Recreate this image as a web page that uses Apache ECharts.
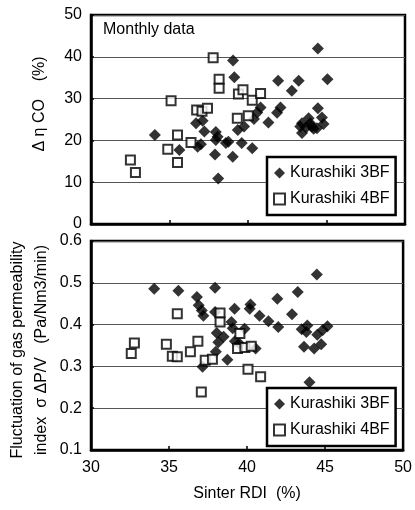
<!DOCTYPE html>
<html><head><meta charset="utf-8">
<script src="https://cdn.jsdelivr.net/npm/echarts@6/dist/echarts.min.js"></script>
<style>html,body{margin:0;padding:0;background:#fff}#c{width:415px;height:510px}</style>
</head><body><div id="c"></div>
<script>
// Sinter RDI (%) axis ticks
const rdiTicks = [30, 35, 40, 45, 50];
const etaTicks = [0, 10, 20, 30, 40, 50];
const sigmaTicks = [0.1, 0.2, 0.3, 0.4, 0.5, 0.6];
const seriesNames = ['Kurashiki 3BF', 'Kurashiki 4BF'];

// Top panel: [Sinter RDI, Δη CO]
const eta3BF = [
  [44.45,42.0],[39.05,39.1],[39.13,35.1],[41.92,34.3],[43.23,34.3],[45.06,34.6],[42.79,31.9],
  [44.45,27.7],[42.07,27.9],[41.85,26.6],[40.80,27.9],[40.59,26.7],[40.38,25.1],[41.30,24.3],
  [39.75,23.3],[39.35,22.5],[36.69,24.1],[37.11,24.7],[37.22,22.1],[37.95,22.0],[38.06,20.9],
  [37.95,20.1],[38.59,19.4],[38.75,19.7],[37.00,19.1],[36.79,18.5],[39.60,19.4],[40.27,18.1],
  [35.63,17.7],[37.90,16.6],[39.03,16.1],[34.07,21.3],[38.10,10.9],
  [43.44,24.1],[43.86,25.3],[43.44,21.8],[43.70,23.1],[44.07,23.3],[44.39,22.9],[44.71,25.5],
  [44.81,23.9],[43.33,23.3],[43.96,24.1],[44.18,22.8]
];
const eta4BF = [
  [37.78,39.8],[38.16,34.6],[38.16,32.5],[39.39,31.1],[39.68,32.1],[40.27,29.6],[40.80,31.2],
  [40.02,25.9],[39.32,25.3],[35.10,29.5],[36.73,27.3],[37.07,27.0],[37.42,27.7],[35.51,21.3],
  [36.37,19.5],[34.89,17.9],[35.51,14.7],[32.51,15.3],[32.83,12.3]
];

// Bottom panel: [Sinter RDI, σΔP/V]
const sigma3BF = [
  [44.47,0.520],[34.05,0.486],[35.60,0.481],[37.95,0.488],[36.79,0.466],[41.94,0.462],[43.25,0.478],
  [36.90,0.446],[37.10,0.434],[37.20,0.421],[37.95,0.430],[39.20,0.438],[40.22,0.448],[40.17,0.438],
  [40.80,0.421],[41.37,0.408],[42.88,0.425],[42.00,0.394],[39.00,0.406],[39.08,0.391],[39.84,0.390],
  [38.50,0.371],[38.06,0.380],[38.16,0.358],[38.00,0.335],[37.15,0.299],[38.74,0.316],[39.22,0.360],
  [39.50,0.355],[40.55,0.343],[43.86,0.398],[43.50,0.389],[43.80,0.382],[44.50,0.376],[44.85,0.387],
  [45.15,0.396],[43.65,0.347],[44.30,0.343],[44.75,0.353],[44.00,0.262]
];
const sigma4BF = [
  [35.53,0.426],[32.78,0.356],[32.58,0.331],[34.83,0.353],[35.21,0.324],[35.53,0.323],[36.37,0.335],
  [36.85,0.360],[37.32,0.315],[37.78,0.317],[38.27,0.428],[38.27,0.406],[39.54,0.379],[39.39,0.343],
  [39.86,0.345],[40.27,0.348],[40.06,0.293],[40.87,0.275],[37.07,0.239]
];

const FONT = '"Liberation Sans", Arial, sans-serif';
const chart = echarts.init(document.getElementById('c'), null, {renderer: 'canvas'});

function yAxis(grid, ticks, fmt) {
  return {
    type: 'value', gridIndex: grid,
    min: ticks[0], max: ticks[ticks.length - 1], interval: ticks[1] - ticks[0],
    axisLine: {show: true, lineStyle: {color: '#000', width: 2.5}},
    axisTick: {show: true, inside: true, length: 3, lineStyle: {color: '#000', width: 1.5}},
    axisLabel: {color: '#000', fontSize: 16, fontFamily: FONT, margin: 9, formatter: fmt},
    splitLine: {show: true, lineStyle: {color: '#555', width: 1}}
  };
}
function xAxis(grid, showLabels) {
  return {
    type: 'value', gridIndex: grid,
    min: rdiTicks[0], max: rdiTicks[rdiTicks.length - 1], interval: rdiTicks[1] - rdiTicks[0],
    axisLine: {show: true, onZero: false, lineStyle: {color: '#000', width: 2.5}},
    axisTick: {show: true, inside: true, length: 4, lineStyle: {color: '#000', width: 1.5}},
    axisLabel: {show: showLabels, color: '#000', fontSize: 16, fontFamily: FONT, margin: 10},
    splitLine: {show: false},
    name: showLabels ? 'Sinter RDI  (%)' : '',
    nameLocation: 'middle', nameGap: 36,
    nameTextStyle: {color: '#000', fontSize: 16, fontFamily: FONT}
  };
}
function legend(top) {
  return {
    left: 267, top: top, orient: 'vertical',
    borderColor: '#000', borderWidth: 2.5, backgroundColor: '#fff',
    padding: [6, 6, 6, 6], itemGap: 6, itemWidth: 11, itemHeight: 11,
    textStyle: {color: '#000', fontSize: 16, fontFamily: FONT, lineHeight: 20},
    data: [{name: seriesNames[0], icon: 'diamond'}, {name: seriesNames[1], icon: 'rect'}]
  };
}
const diamondStyle = {color: '#000'};
const squareStyle = {color: '#fff', borderColor: '#000', borderWidth: 2};

chart.setOption({
  animation: false,
  backgroundColor: '#fff',
  grid: [
    {left: 91, right: 10, top: 15, height: 209, show: true, borderColor: '#000', borderWidth: 2.5, backgroundColor: 'transparent'},
    {left: 91, right: 10, top: 241, height: 209, show: true, borderColor: '#000', borderWidth: 2.5, backgroundColor: 'transparent'}
  ],
  xAxis: [xAxis(0, false), xAxis(1, true)],
  yAxis: [yAxis(0, etaTicks, v => String(Math.round(v))), yAxis(1, sigmaTicks, v => v.toFixed(1))],
  legend: [legend(157), legend(388)],
  series: [
    {name: seriesNames[0], type: 'scatter', xAxisIndex: 0, yAxisIndex: 0, symbol: 'diamond', symbolSize: 12, itemStyle: diamondStyle, data: eta3BF},
    {name: seriesNames[1], type: 'scatter', xAxisIndex: 0, yAxisIndex: 0, symbol: 'rect', symbolSize: 9, itemStyle: squareStyle, data: eta4BF},
    {name: seriesNames[0], type: 'scatter', xAxisIndex: 1, yAxisIndex: 1, symbol: 'diamond', symbolSize: 12, itemStyle: diamondStyle, data: sigma3BF},
    {name: seriesNames[1], type: 'scatter', xAxisIndex: 1, yAxisIndex: 1, symbol: 'rect', symbolSize: 9, itemStyle: squareStyle, data: sigma4BF}
  ],
  graphic: [
    {type: 'text', x: 103, y: 30, z: 100, style: {text: 'Monthly data', fill: '#000', font: '16px ' + FONT, align: 'left', verticalAlign: 'middle'}},
    {type: 'text', x: 40, y: 104, rotation: Math.PI / 2, style: {text: 'Δ η CO    (%)', fill: '#000', font: '16px ' + FONT, align: 'center', verticalAlign: 'middle'}},
    {type: 'text', x: 18, y: 350, rotation: Math.PI / 2, style: {text: 'Fluctuation of gas permeability', fill: '#000', font: '16px ' + FONT, align: 'center', verticalAlign: 'middle'}},
    {type: 'text', x: 42, y: 350, rotation: Math.PI / 2, style: {text: 'index  σ ΔP/V   (Pa/Nm3/min)', fill: '#000', font: '16px ' + FONT, align: 'center', verticalAlign: 'middle'}}
  ]
});
</script>
</body></html>
